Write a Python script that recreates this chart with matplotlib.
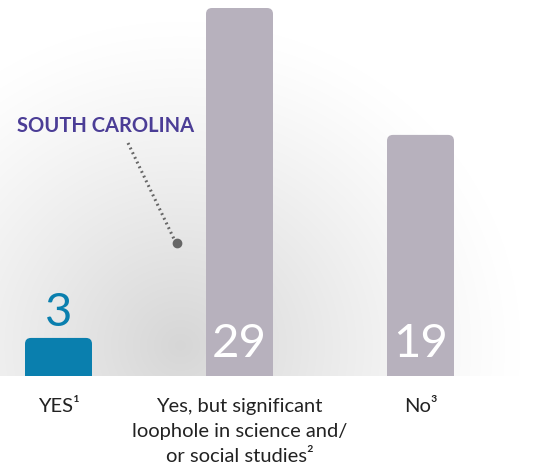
import numpy as np
import matplotlib
matplotlib.use("Agg")
import matplotlib.pyplot as plt
from matplotlib.patches import FancyBboxPatch
from matplotlib.lines import Line2D

categories = ["YES¹", "Yes, but significant\nloophole in science and/\nor social studies²", "No³"]
values = [3, 29, 19]
bar_colors = ["#0a7fae", "#b7b1bd", "#b7b1bd"]
label_colors = ["#0a7fae", "white", "white"]

W, H = 548, 475
fig = plt.figure(figsize=(W / 100, H / 100), dpi=100)
plt.rcParams['font.family'] = ['Lato', 'DejaVu Sans']

# radial grey background
bg = fig.add_axes([0, 0, 1, 1], zorder=0)
yy, xx = np.mgrid[0:H, 0:W]
cx, cy, r = 180, 345, 340
d = np.sqrt((xx - cx) ** 2 + ((yy - cy) * 1.05) ** 2) / r
g = 1 - 0.16 * np.clip(1 - d, 0, 1) ** 1.2
img = np.dstack([g, g, g])
img[376:, :, :] = 1.0
bg.imshow(img, extent=(0, W, H, 0), aspect='auto', interpolation='bilinear')
bg.set_xlim(0, W)
bg.set_ylim(H, 0)
bg.axis('off')

base_px = 376
ax = fig.add_axes([0, (H - base_px) / H, 1, base_px / H], zorder=1)
ax.patch.set_alpha(0)
px_per_unit_x = 181
xl = -58.5 / px_per_unit_x
ax.set_xlim(xl, xl + W / px_per_unit_x)
top_px = 368
ax.set_ylim(0, base_px * values[1] / top_px)
for s in ax.spines.values():
    s.set_visible(False)
ax.set_xticks([])
ax.set_yticks([])

x = np.arange(len(values))
width = 67 / px_per_unit_x
bars = ax.bar(x, values, width=width, color=bar_colors, alpha=0)
ypx = base_px / ax.get_ylim()[1]
rx = 6 / px_per_unit_x
for b, c in zip(bars, bar_colors):
    p = FancyBboxPatch((b.get_x(), -2), b.get_width(), b.get_height() + 2,
                       boxstyle=f"round,pad=0,rounding_size={rx}",
                       mutation_aspect=(px_per_unit_x / ypx),
                       facecolor=c, edgecolor='none', clip_on=True)
    ax.add_patch(p)

for i, (v, lc) in enumerate(zip(values, label_colors)):
    if v < 5:
        ax.text(i, v + 0.3, str(v), ha='center', va='bottom', color=lc, fontsize=34)
    else:
        ax.text(i, 0.85, str(v), ha='center', va='bottom', color=lc, fontsize=34)

for i, c in enumerate(categories):
    ax.text(i, -1.75, c, ha='center', va='top', fontsize=14.5, color='#222222',
            linespacing=1.55, clip_on=False)

fig.text(17 / W, 1 - 126 / H, "SOUTH CAROLINA", color="#4b3d96", fontsize=14.5,
         fontweight='bold', ha='left', va='center')
fig.add_artist(Line2D([128 / W, 174 / W], [1 - 143 / H, 1 - 239 / H],
                      transform=fig.transFigure, color='#666666', lw=2.2,
                      linestyle=(0, (0.6, 1.1)), zorder=5))
fig.add_artist(Line2D([177 / W], [1 - 243 / H], transform=fig.transFigure,
                      marker='o', markersize=6, color='#666666', zorder=5))

fig.savefig("out.png", dpi=100)
